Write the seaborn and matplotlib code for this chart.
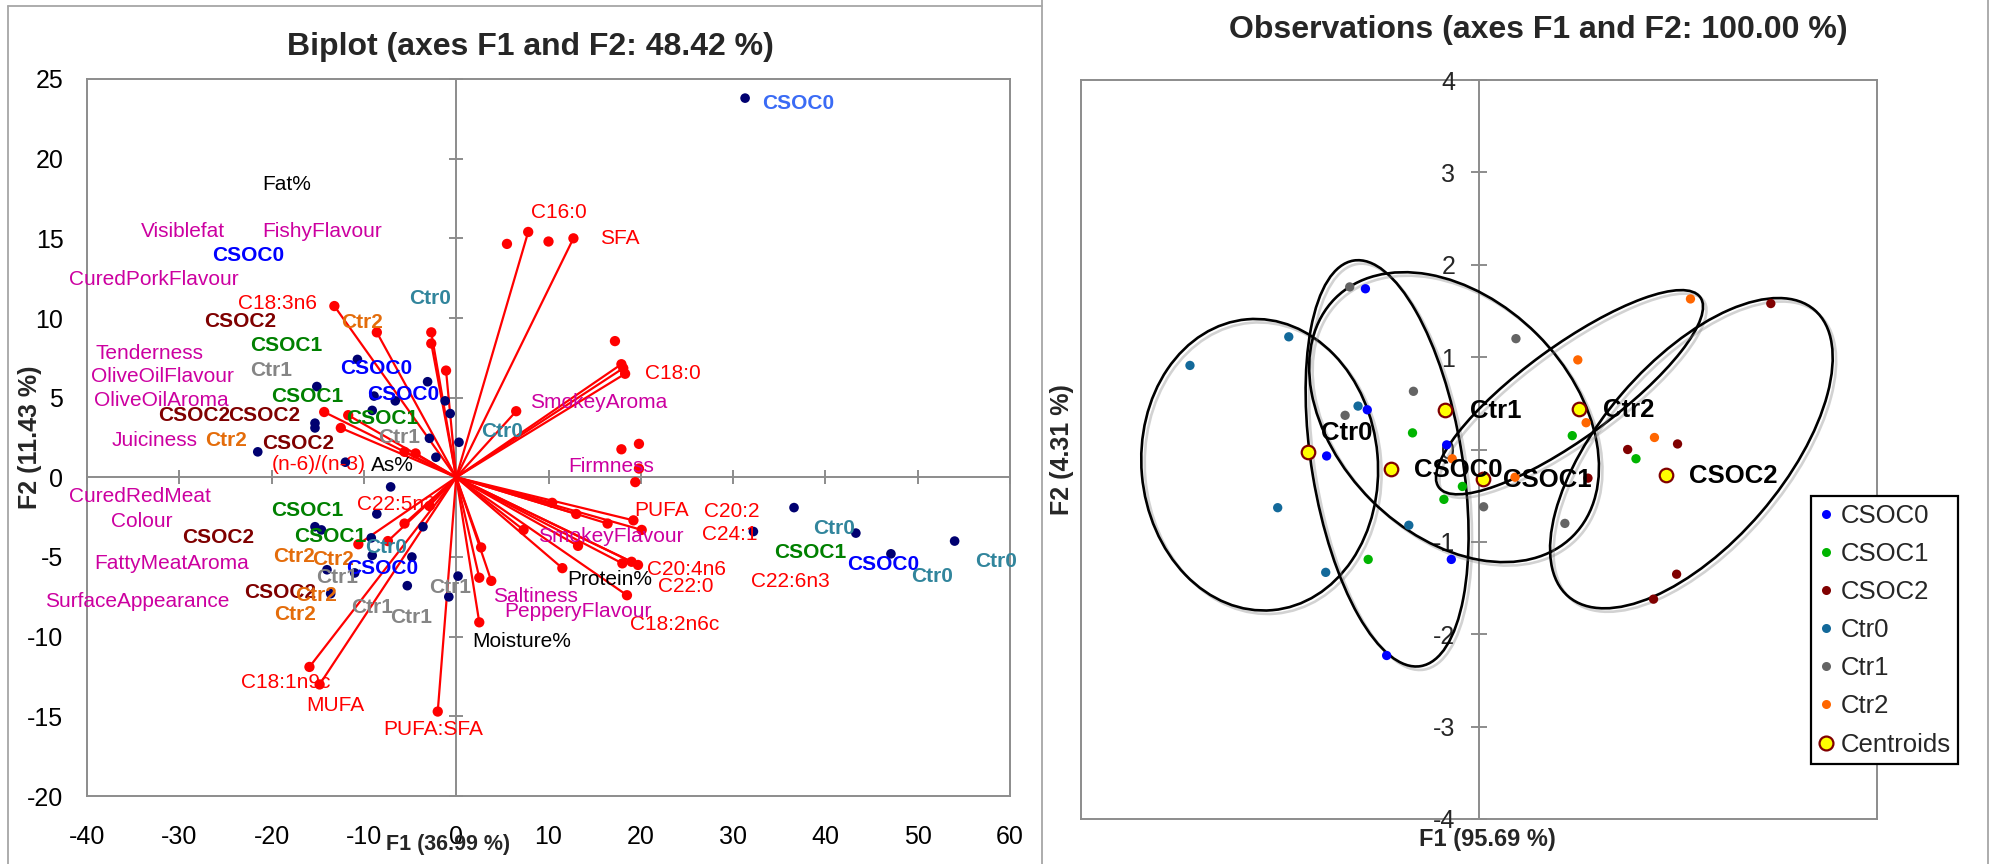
import numpy as np
import pandas as pd
import matplotlib
matplotlib.use("Agg")
import matplotlib.pyplot as plt
import matplotlib.patheffects as pe
from matplotlib.lines import Line2D
from matplotlib.patches import Ellipse
import seaborn as sns

sns.set_theme(style="white")
plt.rcParams['font.family'] = ['Liberation Sans', 'DejaVu Sans']
plt.rcParams['axes.unicode_minus'] = False

# ---------------- biplot (left) ----------------
# observations (navy dots)
obs_x = [-10.7, -15.1, -3.1, -8.9, -6.6, -1.2, -0.65, -9.1, -15.3, -15.3, -2.9, 0.3, -2.2,
         -12.0, -21.5, -7.1, -8.6, -15.3, -14.6, -9.2, -3.6, -9.1, -4.8, -14.0, -11.0, -5.3,
         0.2, -13.6, -0.8, 31.3, 36.6, 32.2, 43.3, 47.1, 54.0]
obs_y = [7.4, 5.7, 6.0, 5.1, 4.8, 4.8, 4.0, 4.2, 3.4, 3.1, 2.45, 2.2, 1.26,
         0.95, 1.6, -0.6, -2.3, -3.1, -3.3, -3.8, -3.1, -4.9, -5.0, -5.8, -6.0, -6.8,
         -6.2, -7.3, -7.5, 23.8, -1.9, -3.4, -3.5, -4.8, -4.0]

# variables drawn as vectors from the origin
vec_x = [-13.2, -8.6, -2.7, -2.7, -1.1, -14.3, -11.7, -12.5, -5.6, -4.4,
         -15.9, -14.8, -2.0, -10.6, -7.4, -5.6, -2.9,
         2.5, 2.5, 3.8, 2.7,
         7.8, 12.7, 17.9, 18.1, 18.3, 6.5,
         19.2, 20.1, 16.4, 13.0, 10.4, 7.3, 13.2, 18.0, 19.0, 19.7, 11.5, 18.5]
vec_y = [10.75, 9.1, 9.1, 8.4, 6.7, 4.1, 3.9, 3.1, 1.6, 1.5,
         -11.9, -13.0, -14.7, -4.2, -4.0, -2.9, -1.8,
         -9.1, -6.3, -6.5, -4.4,
         15.4, 15.0, 7.1, 6.85, 6.5, 4.15,
         -2.7, -3.3, -2.9, -2.3, -1.6, -3.3, -4.3, -5.4, -5.3, -5.5, -5.7, -7.4]
# variable points without a vector
sup_x = [5.5, 10.0, 17.2, 17.9, 19.8, 19.8, 19.4]
sup_y = [14.65, 14.8, 8.55, 1.76, 2.1, 0.55, -0.3]

# observation labels
obs_lab = ['CSOC0', 'Ctr0', 'Ctr2', 'CSOC2', 'CSOC1', 'Ctr1', 'CSOC0', 'CSOC1', 'CSOC0',
           'CSOC2', 'CSOC2', 'CSOC1', 'Ctr2', 'CSOC2', 'Ctr1', 'Ctr0', 'CSOC2', 'CSOC1',
           'CSOC1', 'Ctr0', 'Ctr2', 'Ctr2', 'CSOC0', 'Ctr1', 'CSOC2', 'Ctr2', 'Ctr2',
           'Ctr1', 'Ctr1', 'Ctr1', 'CSOC0', 'Ctr0', 'CSOC1', 'CSOC0', 'Ctr0', 'Ctr0']
obs_lab_x = [-26.4, -5.1, -12.5, -27.3, -22.3, -22.3, -12.6, -20.0, -9.7,
             -32.3, -24.7, -11.9, -27.2, -21.0, -8.5, 2.7, -29.7, -20.0,
             -17.6, -9.9, -19.8, -15.6, -11.9, -15.2, -23.0, -17.4, -19.7,
             -11.4, -7.2, -2.9, 33.1, 38.7, 34.4, 42.4, 56.2, 49.3]
obs_lab_y = [13.9, 11.2, 9.7, 9.75, 8.25, 6.7, 6.8, 5.1, 5.2,
             3.85, 3.85, 3.7, 2.3, 2.15, 2.5, 2.9, -3.75, -2.1,
             -3.7, -4.4, -5.0, -5.15, -5.7, -6.3, -7.2, -7.4, -8.6,
             -8.2, -8.8, -6.9, 23.45, -3.2, -4.7, -5.5, -5.3, -6.2]

# variable labels: fa = fatty acids, sens = sensory, chem = composition
var_lab = ['C18:3n6', '(n-6)/(n-3)', 'C22:5n3', 'C18:1n9c', 'MUFA', 'PUFA:SFA', 'C16:0', 'SFA',
           'C18:0', 'PUFA', 'C20:2', 'C24:1', 'C20:4n6', 'C22:0', 'C22:6n3', 'C18:2n6c',
           'Visiblefat', 'FishyFlavour', 'CuredPorkFlavour', 'Tenderness', 'OliveOilFlavour',
           'OliveOilAroma', 'Juiciness', 'CuredRedMeat', 'Colour', 'FattyMeatAroma',
           'SurfaceAppearance', 'SmokeyAroma', 'Firmness', 'SmokeyFlavour', 'Saltiness',
           'PepperyFlavour', 'Fat%', 'As%', 'Moisture%', 'Protein%']
var_kind = ['fa'] * 16 + ['sens'] * 16 + ['chem'] * 4
var_lab_x = [-23.6, -20.0, -10.8, -23.3, -16.2, -7.9, 8.1, 15.6,
             20.5, 19.3, 26.8, 26.6, 20.7, 21.9, 31.9, 18.8,
             -34.2, -21.0, -41.9, -39.1, -39.6,
             -39.2, -37.3, -41.9, -37.4, -39.2,
             -44.5, 8.0, 12.1, 8.9, 4.0,
             5.2, -21.0, -9.2, 1.7, 12.0]
var_lab_y = [10.9, 0.8, -1.7, -12.9, -14.3, -15.8, 16.6, 15.0,
             6.5, -2.1, -2.15, -3.6, -5.8, -6.85, -6.55, -9.25,
             15.4, 15.4, 12.4, 7.8, 6.3,
             4.85, 2.3, -1.2, -2.75, -5.4,
             -7.8, 4.7, 0.7, -3.7, -7.5,
             -8.4, 18.4, 0.75, -10.3, -6.4]

# ---------------- observations (right) ----------------
group_names = ['CSOC0', 'CSOC1', 'CSOC2', 'Ctr0', 'Ctr1', 'Ctr2']
groups = [g for g in group_names for _ in range(6)]
f1 = [-1.23, -1.21, -0.35, -1.65, -0.30, -1.00,
      -0.72, -0.18, -0.38, -1.20, 1.01, 1.70,
      3.16, 2.15, 1.61, 1.18, 2.14, 1.89,
      -3.13, -2.06, -1.31, -2.18, -0.76, -1.66,
      -1.40, -0.71, -1.45, 0.40, 0.05, 0.93,
      2.29, 1.07, 1.16, 1.90, -0.29, 0.39]
f2 = [1.74, 0.43, 0.05, -0.07, -1.19, -2.23,
      0.18, -0.40, -0.54, -1.19, 0.15, -0.10,
      1.58, 0.06, 0.00, -0.31, -1.35, -1.62,
      0.91, 1.22, 0.47, -0.63, -0.82, -1.33,
      1.76, 0.63, 0.37, 1.20, -0.62, -0.80,
      1.63, 0.97, 0.29, 0.13, -0.10, -0.30]
cent_lab_x = [-0.70, 0.26, 2.27, -1.71, -0.10, 1.34]
cent_lab_y = [-0.22, -0.33, -0.29, 0.18, 0.42, 0.43]

# confidence ellipses
ell_group = ['Ctr0', 'CSOC0', 'Ctr1', 'Ctr2', 'CSOC2']
ell_cx = [-2.375, -0.995, -0.27, 0.98, 2.30]
ell_cy = [-0.165, -0.15, 0.35, 0.62, -0.04]
ell_major = [3.16, 4.45, 3.64, 3.50, 4.09]
ell_minor = [2.56, 1.63, 2.54, 1.00, 1.98]
ell_angle = [95, 99.4, 135, 36, 49.3]

lab_colors = {'CSOC0': '#0000FF', 'CSOC1': '#008000', 'CSOC2': '#7F0000',
              'Ctr0': '#31859C', 'Ctr1': '#858585', 'Ctr2': '#E46C0A'}
var_colors = {'fa': '#FF0000', 'sens': '#CC00A0', 'chem': '#000000'}
pt_colors = {'CSOC0': '#0000FF', 'CSOC1': '#00B400', 'CSOC2': '#800000',
             'Ctr0': '#13699A', 'Ctr1': '#646464', 'Ctr2': '#FF6600'}
frame_gray = '#8C8C8C'

W, H = 1990, 864
fig = plt.figure(figsize=(W / 100, H / 100), dpi=100)

# panel borders
for x0, y0, x1, y1 in [(8, 6, 8, H), (8, 6, 1042, 6), (1042, 0, 1042, H), (1988, 0, 1988, H)]:
    fig.add_artist(Line2D([x0 / W, x1 / W], [1 - y0 / H, 1 - y1 / H], color='#A6A6A6', lw=1.3))

# ---- left panel ----
pos_l = [87 / W, 1 - 796 / H, 923 / W, 717 / H]
axb = fig.add_axes(pos_l)
axb.set_xlim(-40, 60)
axb.set_ylim(-20, 25)
axb.set_xticks(range(-40, 61, 10))
axb.set_yticks(range(-20, 26, 5))
axb.tick_params(length=0, labelsize=18, colors='black')
axb.tick_params(axis='x', pad=21)
axb.tick_params(axis='y', pad=17)
for s in axb.spines.values():
    s.set_color(frame_gray)
    s.set_linewidth(1.4)
axb.set_title('Biplot (axes F1 and F2: 48.42 %)', fontsize=23, fontweight='bold',
              x=0.48, y=1.0446, va='center', pad=0)
axb.set_xlabel('F1 (36.99 %)', fontsize=15.5, fontweight='bold', va='center')
axb.xaxis.set_label_coords(0.391, -0.068)
axb.set_ylabel('F2 (11.43 %)', fontsize=18, fontweight='bold', va='center')
axb.yaxis.set_label_coords(-0.062, 0.5)

ax = fig.add_axes(pos_l, sharex=axb, sharey=axb)
ax.patch.set_visible(False)
for side in ['top', 'right']:
    ax.spines[side].set_visible(False)
for side in ['left', 'bottom']:
    ax.spines[side].set_position(('data', 0))
    ax.spines[side].set_color(frame_gray)
    ax.spines[side].set_linewidth(1.4)
    ax.spines[side].set_zorder(1)
ax.tick_params(direction='inout', length=10, width=1.4, color=frame_gray,
               labelleft=False, labelbottom=False, left=True, bottom=True)

for vx, vy in zip(vec_x, vec_y):
    ax.plot([0, vx], [0, vy], color='#FF0000', lw=1.6, zorder=3, solid_capstyle='round')
sns.scatterplot(x=vec_x + sup_x, y=vec_y + sup_y, ax=ax, color='#FF0000', s=55,
                edgecolor='none', zorder=4, legend=False)
sns.scatterplot(x=obs_x, y=obs_y, ax=ax, color='#000070', s=48,
                edgecolor='none', zorder=4, legend=False)

for t, x, y in zip(obs_lab, obs_lab_x, obs_lab_y):
    c = lab_colors[t]
    if y > 20:
        c = '#3A6BF5'
    ax.text(x, y, t, color=c, fontsize=15, fontweight='bold', ha='left', va='center', zorder=5)
for t, k, x, y in zip(var_lab, var_kind, var_lab_x, var_lab_y):
    ax.text(x, y, t, color=var_colors[k], fontsize=15, ha='left', va='center', zorder=5)

# ---- right panel ----
pos_r = [1081 / W, 1 - 819 / H, 796 / W, 739 / H]
axb2 = fig.add_axes(pos_r)
axb2.set_xlim(-4.31, 4.31)
axb2.set_ylim(-4, 4)
for s in axb2.spines.values():
    s.set_color(frame_gray)
    s.set_linewidth(1.4)
axb2.set_title('Observations (axes F1 and F2: 100.00 %)', fontsize=23, fontweight='bold',
               x=0.575, y=1.0677, va='center', pad=0)
axb2.set_xlabel('F1 (95.69 %)', fontsize=17, fontweight='bold', va='center')
axb2.xaxis.set_label_coords(0.511, -0.028)
axb2.set_ylabel('F2 (4.31 %)', fontsize=18, fontweight='bold', va='center')
axb2.yaxis.set_label_coords(-0.024, 0.5)

ax2 = fig.add_axes(pos_r, sharex=axb2, sharey=axb2)
ax2.patch.set_visible(False)
for side in ['top', 'right', 'bottom']:
    ax2.spines[side].set_visible(False)
ax2.spines['left'].set_position(('data', 0))
ax2.spines['left'].set_color(frame_gray)
ax2.spines['left'].set_linewidth(1.4)
ax2.spines['left'].set_zorder(1)
ax2.set_yticks(range(-4, 5))
ax2.tick_params(axis='y', direction='inout', length=12, width=1.4, color=frame_gray,
                labelsize=18, pad=11, left=True)
ax2.tick_params(axis='x', bottom=False, labelbottom=False)
axb2.tick_params(left=False, labelleft=False, bottom=False, labelbottom=False)

df = pd.DataFrame({'group': groups, 'F1': f1, 'F2': f2})
cent = df.groupby('group', sort=False)[['F1', 'F2']].mean().reindex(group_names)

shadow = [pe.SimpleLineShadow(offset=(2.5, -2.5), shadow_color='gray', alpha=0.35), pe.Normal()]
for cx, cy, w, h, a in zip(ell_cx, ell_cy, ell_major, ell_minor, ell_angle):
    e = Ellipse((cx, cy), w, h, angle=a, fill=False, edgecolor='black', lw=1.9, zorder=3)
    e.set_path_effects(shadow)
    ax2.add_patch(e)

sns.scatterplot(data=df, x='F1', y='F2', hue='group', palette=pt_colors, ax=ax2,
                s=45, edgecolor='none', zorder=4, legend=False)
sns.scatterplot(x=cent['F1'], y=cent['F2'], ax=ax2, color='#FFFF00', edgecolor='#800000',
                linewidth=1.6, s=95, zorder=5, legend=False)
for g, x, y in zip(group_names, cent_lab_x, cent_lab_y):
    ax2.text(x, y, g, fontsize=18.5, fontweight='bold', color='black', ha='left', va='center', zorder=6)
ax2.set_xlabel('')
ax2.set_ylabel('')

handles = [Line2D([], [], marker='o', ls='', ms=6.5, color=pt_colors[g], markeredgewidth=0)
           for g in group_names]
handles.append(Line2D([], [], marker='o', ls='', ms=10, markerfacecolor='#FFFF00',
                      markeredgecolor='#800000', markeredgewidth=1.6))
leg = fig.legend(handles, group_names + ['Centroids'], loc='upper left',
                 bbox_to_anchor=(1811 / W, 1 - 496 / H), borderaxespad=0, fontsize=18.5,
                 frameon=True, fancybox=False, edgecolor='black', framealpha=1,
                 handlelength=0.6, handletextpad=0.25, labelspacing=0.55, borderpad=0.3)
leg.get_frame().set_linewidth(1.6)

fig.savefig('out.png', dpi=100)
